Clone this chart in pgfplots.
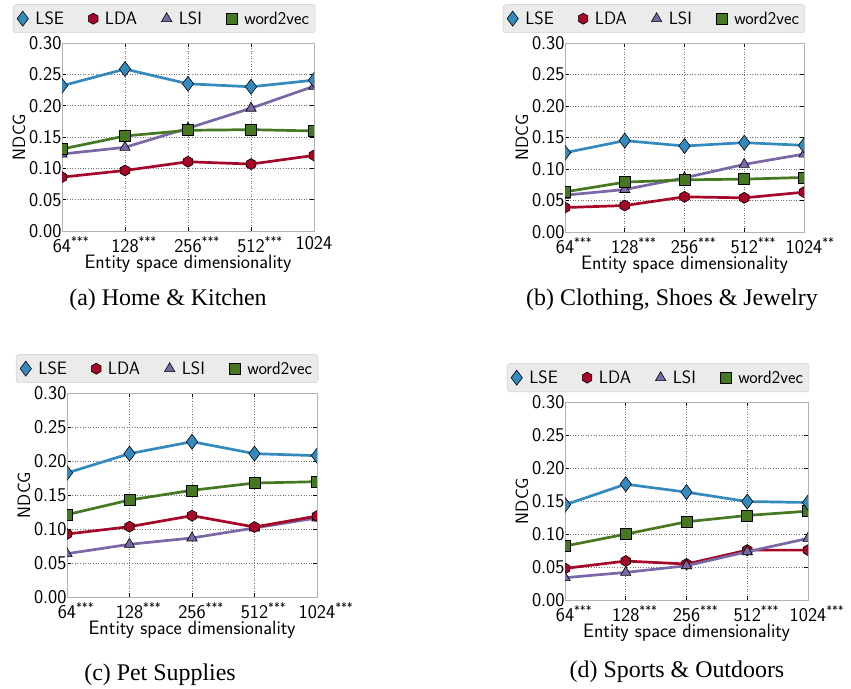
\documentclass[border=0pt]{standalone}
\usepackage{pgfplots}
\pgfplotsset{compat=1.18}
\usepackage{fontspec}
\setmainfont{Liberation Serif}
\definecolor{cLSE}{HTML}{348ABD}
\definecolor{cLDA}{HTML}{A60628}
\definecolor{cLSI}{HTML}{7A68A6}
\definecolor{cW2V}{HTML}{467821}
\pgfdeclareplotmark{hexagon*}{%
  \pgfpathmoveto{\pgfqpointpolar{90}{\pgfplotmarksize}}%
  \pgfpathlineto{\pgfqpointpolar{150}{\pgfplotmarksize}}%
  \pgfpathlineto{\pgfqpointpolar{210}{\pgfplotmarksize}}%
  \pgfpathlineto{\pgfqpointpolar{270}{\pgfplotmarksize}}%
  \pgfpathlineto{\pgfqpointpolar{330}{\pgfplotmarksize}}%
  \pgfpathlineto{\pgfqpointpolar{30}{\pgfplotmarksize}}%
  \pgfpathclose\pgfusepathqfillstroke}
\newcommand{\st}[1]{#1\rlap{\textsuperscript{\fontsize{12}{12}\selectfont ***}}}
\newcommand{\sst}[1]{#1\rlap{\textsuperscript{\fontsize{12}{12}\selectfont **}}}
\pgfplotsset{
  lse/.style={cLSE, line width=2.7bp, mark=diamond*, mark size=7.5bp, mark options={fill=cLSE, draw=black, line width=0.6bp, solid}},
  lda/.style={cLDA, line width=2.7bp, mark=hexagon*, mark size=5.5bp, mark options={fill=cLDA, draw=black, line width=0.6bp, solid}},
  lsi/.style={cLSI, line width=2.7bp, mark=triangle*, mark size=6bp, mark options={fill=cLSI, draw=black, line width=0.6bp, solid}},
  w2v/.style={cW2V, line width=2.7bp, mark=square*, mark size=5.5bp, mark options={fill=cW2V, draw=black, line width=0.6bp, solid}},
  panel/.style={
    scale only axis,
    xmin=0, xmax=4, ymin=0, ymax=0.30,
    xtick={0,1,2,3,4},
    ytick={0,0.05,0.10,0.15,0.20,0.25,0.30},
    grid=major,
    major grid style={dash pattern=on 1bp off 1.6bp, black!55, line width=0.8bp},
    tick align=inside,
    major tick length=4bp,
    tick style={black, line width=0.9bp},
    axis line style={black!30, line width=0.8bp},
    clip marker paths=true,
    /pgf/number format/assume math mode=true,
    ticklabel style={font=\sffamily\fontsize{19.5}{19.5}\selectfont},
    yticklabel style={/pgf/number format/fixed, /pgf/number format/fixed zerofill, /pgf/number format/precision=2, /tikz/xshift=3bp},
    xticklabel style={inner sep=0bp, yshift=-5bp},
    xlabel={Entity space dimensionality},
    ylabel={NDCG},
    xlabel style={font=\sffamily\fontsize{19.5}{19.5}\selectfont, inner sep=1bp, yshift=-1bp},
    ylabel style={font=\sffamily\fontsize{18}{18}\selectfont, yshift=-3bp},
    legend columns=4,
    legend cell align=left,
    legend image code/.code={\draw[#1] plot coordinates {(0bp,0bp)};},
    legend style={at={(1.005,1)}, anchor=south east, yshift=10bp,
      fill=black!8, draw=black!22, rounded corners=3bp,
      font=\sffamily\fontsize{18}{18}\selectfont, inner xsep=4bp, inner ysep=5bp,
      /tikz/every odd column/.append style={column sep=5bp},
      /tikz/every even column/.append style={column sep=22.5bp}},
  },
}
\begin{document}
\begin{tikzpicture}
\path[use as bounding box] (0,0) rectangle (851bp,689bp);
% (a)
\begin{axis}[panel, at={(62bp,458bp)}, anchor=south west, width=252bp, height=188bp,
  xticklabels={\st{64},\st{128},\st{256},\st{512},1024}]
\addlegendimage{only marks, lse}\addlegendentry{LSE}
\addlegendimage{only marks, lda}\addlegendentry{LDA}
\addlegendimage{only marks, lsi}\addlegendentry{LSI}
\addlegendimage{only marks, w2v}\addlegendentry{word2vec}
\addplot[lda, forget plot] coordinates {(0,0.0859) (1,0.0966) (2,0.1105) (3,0.1068) (4,0.1206)};
\addplot[lsi, forget plot] coordinates {(0,0.1228) (1,0.1335) (2,0.1640) (3,0.1959) (4,0.2310)};
\addplot[w2v, forget plot] coordinates {(0,0.1308) (1,0.1516) (2,0.1607) (3,0.1617) (4,0.1596)};
\addplot[lse, forget plot] coordinates {(0,0.2317) (1,0.2584) (2,0.2349) (3,0.2301) (4,0.2407)};
\end{axis}
% (b)
\begin{axis}[panel, at={(565bp,457bp)}, anchor=south west, width=239bp, height=189bp,
  xticklabels={\st{64},\st{128},\st{256},\st{512},\sst{1024}}]
\addlegendimage{only marks, lse}\addlegendentry{LSE}
\addlegendimage{only marks, lda}\addlegendentry{LDA}
\addlegendimage{only marks, lsi}\addlegendentry{LSI}
\addlegendimage{only marks, w2v}\addlegendentry{word2vec}
\addplot[lda, forget plot] coordinates {(0,0.0388) (1,0.0420) (2,0.0558) (3,0.0542) (4,0.0632)};
\addplot[lsi, forget plot] coordinates {(0,0.0584) (1,0.0674) (2,0.0860) (3,0.1073) (4,0.1237)};
\addplot[w2v, forget plot] coordinates {(0,0.0637) (1,0.0791) (2,0.0828) (3,0.0839) (4,0.0866)};
\addplot[lse, forget plot] coordinates {(0,0.1258) (1,0.1450) (2,0.1365) (3,0.1418) (4,0.1375)};
\end{axis}
% (c)
\begin{axis}[panel, at={(67bp,92bp)}, anchor=south west, width=250bp, height=204bp,
  xticklabels={\st{64},\st{128},\st{256},\st{512},\st{1024}}]
\addlegendimage{only marks, lse}\addlegendentry{LSE}
\addlegendimage{only marks, lda}\addlegendentry{LDA}
\addlegendimage{only marks, lsi}\addlegendentry{LSI}
\addlegendimage{only marks, w2v}\addlegendentry{word2vec}
\addplot[lsi, forget plot] coordinates {(0,0.0637) (1,0.0775) (2,0.0868) (3,0.1015) (4,0.1162)};
\addplot[lda, forget plot] coordinates {(0,0.0926) (1,0.1034) (2,0.1196) (3,0.1029) (4,0.1191)};
\addplot[w2v, forget plot] coordinates {(0,0.1211) (1,0.1426) (2,0.1569) (3,0.1676) (4,0.1696)};
\addplot[lse, forget plot] coordinates {(0,0.1824) (1,0.2108) (2,0.2284) (3,0.2108) (4,0.2078)};
\end{axis}
% (d)
\begin{axis}[panel, at={(565bp,89bp)}, anchor=south west, width=243bp, height=198bp,
  xticklabels={\st{64},\st{128},\st{256},\st{512},\st{1024}}]
\addlegendimage{only marks, lse}\addlegendentry{LSE}
\addlegendimage{only marks, lda}\addlegendentry{LDA}
\addlegendimage{only marks, lsi}\addlegendentry{LSI}
\addlegendimage{only marks, w2v}\addlegendentry{word2vec}
\addplot[lda, forget plot] coordinates {(0,0.0479) (1,0.0590) (2,0.0545) (3,0.0756) (4,0.0756)};
\addplot[lsi, forget plot] coordinates {(0,0.0338) (1,0.0418) (2,0.0519) (3,0.0731) (4,0.0933)};
\addplot[w2v, forget plot] coordinates {(0,0.0817) (1,0.0998) (2,0.1185) (3,0.1281) (4,0.1346)};
\addplot[lse, forget plot] coordinates {(0,0.1442) (1,0.1755) (2,0.1634) (3,0.1492) (4,0.1477)};
\end{axis}
% captions
\node[font=\fontsize{24}{24}\selectfont] at (168bp,389bp) {(a) Home \& Kitchen};
\node[font=\fontsize{24}{24}\selectfont] at (672bp,389bp) {(b) Clothing, Shoes \& Jewelry};
\node[font=\fontsize{24}{24}\selectfont] at (160bp,14bp) {(c) Pet Supplies};
\node[font=\fontsize{24}{24}\selectfont] at (677bp,17bp) {(d) Sports \& Outdoors};
\end{tikzpicture}
\end{document}
